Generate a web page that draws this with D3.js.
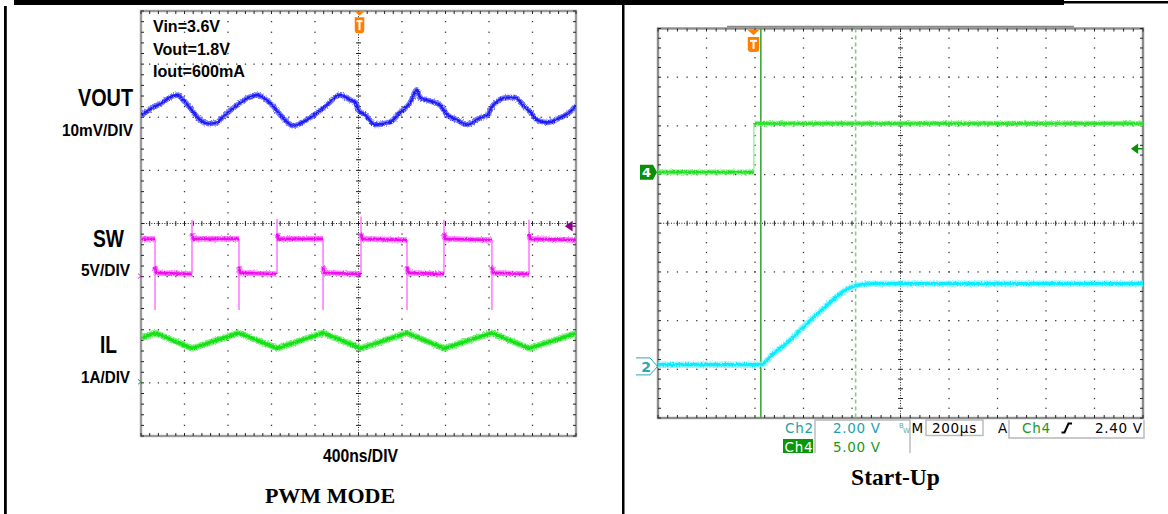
<!DOCTYPE html>
<html>
<head>
<meta charset="utf-8">
<script src="https://cdn.jsdelivr.net/npm/d3@7"></script>
<style>
  html, body { margin: 0; padding: 0; background: #fff; }
  svg { display: block; }
</style>
</head>
<body>
<div id="chart"></div>
<script>
// ---------- PWM MODE capture: time in ns (400ns/DIV) ----------
const pwmConditions = ['Vin=3.6V', 'Vout=1.8V', 'Iout=600mA'];
const pwmChannels = [
  { name: 'VOUT', scale: '10mV/DIV' },
  { name: 'SW', scale: '5V/DIV' },
  { name: 'IL', scale: '1A/DIV' },
];
// VOUT ripple, mV
const voutTrace = [
  [0, -1.1], [90, 0.2], [175, 1.1], [294, 2.6], [340, 2.8], [386, 1.9], [451, 0.4],
  [543, -1.9], [620, -2.6], [700, -2.4], [726, -1.9], [864, 0.6], [960, 2.0],
  [1067, 2.8], [1186, 1.3], [1324, -1.9], [1398, -3.0], [1554, -1.5], [1692, 0.6],
  [1830, 2.8], [1922, 1.9], [1977, 1.3], [1995, 0.0], [2060, -0.9], [2152, -2.8],
  [2290, -2.3], [2382, -0.5], [2474, 1.3], [2538, 3.8], [2565, 2.3], [2685, 1.5],
  [2749, 0.9], [2814, -0.9], [2906, -1.9], [2998, -2.8], [3117, -1.5], [3191, -0.9],
  [3227, 0.6], [3365, 2.3], [3439, 2.3], [3512, 0.9], [3577, -0.4], [3642, -1.9],
  [3733, -2.4], [3853, -1.5], [3945, -0.4], [4000, 0.8],
];
// SW node, V: flat levels between edges
const swLevels = [
  [[0, 3.5], [129, 3.5]],
  [[129, 0.9], [140, 0.3], [469, 0.2]],
  [[469, 4.0], [480, 3.5], [901, 3.5]],
  [[901, 0.9], [912, 0.3], [1251, 0.2]],
  [[1251, 4.0], [1262, 3.5], [1674, 3.5]],
  [[1674, 0.9], [1685, 0.3], [2023, 0.2]],
  [[2023, 4.0], [2034, 3.5], [2446, 3.4]],
  [[2446, 0.9], [2457, 0.3], [2786, 0.2]],
  [[2786, 4.0], [2797, 3.5], [3227, 3.4]],
  [[3227, 0.9], [3238, 0.3], [3568, 0.2]],
  [[3568, 4.0], [3579, 3.5], [4000, 3.4]],
];
// SW edges: [time, from V, spike V]
const swEdges = [
  [129, 3.5, -3.2], [469, 0.2, 5.3], [901, 3.5, -3.2], [1251, 0.2, 5.4],
  [1674, 3.5, -3.2], [2023, 0.2, 5.6], [2446, 3.4, -3.2], [2786, 0.2, 5.3],
  [3227, 3.4, -3.2], [3568, 0.2, 5.3],
];
// inductor current, A
const ilTrace = [
  [0, 0.82], [129, 0.92], [469, 0.63], [901, 0.92], [1251, 0.63], [1674, 0.92],
  [2023, 0.63], [2446, 0.92], [2786, 0.63], [3227, 0.92], [3568, 0.63], [4000, 0.91],
];
const pwmTrigger = { time: 2000, swLevel: 4.7 };

// ---------- Start-Up capture: time in us (200us/DIV) ----------
const ch4Low = [[0, 0.0], [395, 0.0]];
const ch4High = [[396, 5.0], [2000, 5.0]];
const ch4Edge = [395.5, 0.0, 5.0];
const ch2Trace = [
  [0, 0.07], [425, 0.07], [475, 0.52], [544, 1.07], [613, 1.75], [682, 2.37],
  [751, 2.98], [792, 3.23], [820, 3.33], [888, 3.40], [2000, 3.40],
];
const startTrigger = { time: 396, level: 2.40 };
const cursorTimes = [424, 815];

// ---------- layout ----------
const W = 1168, H = 514;
const svg = d3.select('#chart').append('svg').attr('width', W).attr('height', H);
const sans = "'Liberation Sans Narrow', 'Liberation Sans', Arial, sans-serif";
const serif = "'Liberation Serif', 'Times New Roman', serif";
const tek = "'DejaVu Sans', Verdana, sans-serif";

// fuzzy look of the sampled traces (user-space region so flat lines survive)
const filt = svg.append('defs').append('filter').attr('id', 'fuzz')
  .attr('filterUnits', 'userSpaceOnUse')
  .attr('x', 0).attr('y', 0).attr('width', W).attr('height', H);
filt.append('feTurbulence').attr('type', 'fractalNoise').attr('baseFrequency', '0.9 0.6')
  .attr('numOctaves', 2).attr('seed', 3).attr('result', 'n');
filt.append('feDisplacementMap').attr('in', 'SourceGraphic').attr('in2', 'n')
  .attr('scale', 3.2).attr('xChannelSelector', 'R').attr('yChannelSelector', 'G');

// outer table lines
svg.append('rect').attr('x', 14).attr('y', 0).attr('width', 1050).attr('height', 5).attr('fill', '#000');
svg.append('rect').attr('x', 1064).attr('y', 1).attr('width', 104).attr('height', 2.5).attr('fill', '#000');
svg.append('rect').attr('x', 4).attr('y', 6).attr('width', 2.8).attr('height', H).attr('fill', '#000');
svg.append('rect').attr('x', 622).attr('y', 5).attr('width', 2.5).attr('height', H).attr('fill', '#000');

function drawGrid(g, xd, yd, borderColor) {
  const [x0, x1] = xd.range();
  const [y1, y0] = yd.range();
  const subX = d3.range(0, 50.5).map(i => i / 5);
  const subY = d3.range(-20, 20.5).map(i => i / 5);
  const dots = [];
  for (let i = 1; i < 10; i++) if (i !== 5) subY.forEach(v => dots.push([xd(i), yd(v)]));
  for (let j = -3; j < 4; j++) if (j !== 0) subX.forEach(u => dots.push([xd(u), yd(j)]));
  g.selectAll('rect.dot').data(dots).join('rect').attr('class', 'dot')
    .attr('x', d => d[0] - 0.65).attr('y', d => d[1] - 0.65)
    .attr('width', 1.3).attr('height', 1.3).attr('fill', '#3a3a3a');
  // centre cross
  g.append('line').attr('x1', x0).attr('x2', x1).attr('y1', yd(0)).attr('y2', yd(0))
    .attr('stroke', '#222').attr('stroke-width', 1).attr('stroke-dasharray', '1,1.6');
  g.append('line').attr('x1', xd(5)).attr('x2', xd(5)).attr('y1', y0).attr('y2', y1)
    .attr('stroke', '#222').attr('stroke-width', 1).attr('stroke-dasharray', '1,1.6');
  g.selectAll('line.tx').data(subX).join('line').attr('class', 'tx')
    .attr('x1', d => xd(d)).attr('x2', d => xd(d))
    .attr('y1', yd(0) - 2.5).attr('y2', yd(0) + 2.5).attr('stroke', '#222').attr('stroke-width', 1);
  g.selectAll('line.ty').data(subY).join('line').attr('class', 'ty')
    .attr('y1', d => yd(d)).attr('y2', d => yd(d))
    .attr('x1', xd(5) - 2.5).attr('x2', xd(5) + 2.5).attr('stroke', '#222').attr('stroke-width', 1);
  // frame
  g.append('rect').attr('x', x0).attr('y', y0).attr('width', x1 - x0).attr('height', y1 - y0)
    .attr('fill', 'none').attr('stroke', borderColor).attr('stroke-width', 2.4);
  const bt = [];
  subX.forEach(u => { bt.push([xd(u), y0, xd(u), y0 + 3]); bt.push([xd(u), y1, xd(u), y1 - 3]); });
  subY.forEach(v => { bt.push([x0, yd(v), x0 + 3, yd(v)]); bt.push([x1, yd(v), x1 - 3, yd(v)]); });
  g.selectAll('line.bt').data(bt).join('line').attr('class', 'bt')
    .attr('x1', d => d[0]).attr('y1', d => d[1]).attr('x2', d => d[2]).attr('y2', d => d[3])
    .attr('stroke', '#222').attr('stroke-width', 1);
}

function trace(g, pts, xs, ys, band, core, bw, cw, curve) {
  const line = d3.line().x(d => xs(d[0])).y(d => ys(d[1])).curve(curve || d3.curveLinear);
  g.append('path').attr('d', line(pts)).attr('fill', 'none').attr('stroke', band)
    .attr('stroke-width', bw).attr('stroke-linejoin', 'round').attr('opacity', 0.8)
    .attr('filter', 'url(#fuzz)');
  g.append('path').attr('d', line(pts)).attr('fill', 'none').attr('stroke', core)
    .attr('stroke-width', cw).attr('stroke-linejoin', 'round').attr('filter', 'url(#fuzz)');
}

function triggerMarker(g, x, yTop, w, bh) {
  const m = g.append('g').attr('transform', `translate(${x},${yTop})`);
  m.append('path').attr('d', `M${-w / 2},0L${w / 2},0L0,${w * 0.45}Z`).attr('fill', '#ff7f00');
  const bt = w * 0.6;
  m.append('path')
    .attr('d', `M${-w / 2},${bt}h${w}v${bh - 3.5}q0,3.5 -3.5,3.5h${-(w - 7)}q-3.5,0 -3.5,-3.5Z`)
    .attr('fill', '#ff7f00');
  m.append('rect').attr('x', -w * 0.3).attr('y', bt + 3).attr('width', w * 0.6).attr('height', 2).attr('fill', '#fff');
  m.append('rect').attr('x', -1).attr('y', bt + 3).attr('width', 2).attr('height', bh - 6).attr('fill', '#fff');
}

// ===================== PWM MODE panel =====================
const L = { x0: 141, x1: 576, y0: 11, y1: 436 };
const xDivL = d3.scaleLinear().domain([0, 10]).range([L.x0, L.x1]);
const yDivL = d3.scaleLinear().domain([-4, 4]).range([L.y1, L.y0]);
const xT = d3.scaleLinear().domain([0, 4000]).range([L.x0, L.x1]);
const chanL = (offset, perDiv) => v => yDivL(offset + v / perDiv);
const yVout = chanL(2.14, 10), ySw = chanL(-0.99, 5), yIl = chanL(-2.98, 1);

const gL = svg.append('g');
drawGrid(gL, xDivL, yDivL, '#9a9a9a');
svg.append('clipPath').attr('id', 'clipL').append('rect')
  .attr('x', L.x0).attr('y', L.y0).attr('width', L.x1 - L.x0).attr('height', L.y1 - L.y0);
const tL = gL.append('g').attr('clip-path', 'url(#clipL)');

trace(tL, voutTrace, xT, yVout, '#5a5aff', '#1c1cf5', 5.5, 2.4, d3.curveMonotoneX);
tL.selectAll('line.edge').data(swEdges).join('line').attr('class', 'edge')
  .attr('x1', d => xT(d[0])).attr('x2', d => xT(d[0]))
  .attr('y1', d => ySw(d[1])).attr('y2', d => ySw(d[2]))
  .attr('stroke', '#ff8cff').attr('stroke-width', 1.8);
swLevels.forEach(seg => trace(tL, seg, xT, ySw, '#ff66ff', '#ee11ee', 5.6, 2.6));
trace(tL, ilTrace, xT, yIl, '#5cec5c', '#14e014', 6.5, 3.4);

triggerMarker(gL, xT(pwmTrigger.time) + 1, L.y0 + 0.5, 9.5, 16);
// trigger level arrow (right edge) and ground markers (left edge)
gL.append('path')
  .attr('d', `M${L.x1 - 10},${ySw(pwmTrigger.swLevel)}l6,-4.2v8.4Z M${L.x1 - 4},${ySw(pwmTrigger.swLevel)}h4`)
  .attr('fill', '#8a008a').attr('stroke', '#8a008a').attr('stroke-width', 1.2);
gL.append('path').attr('d', `M${L.x0 - 3},${ySw(0) - 2.5}l3,2.5l-3,2.5`)
  .attr('fill', 'none').attr('stroke', '#cc44cc').attr('stroke-width', 1);
gL.append('path').attr('d', `M${L.x0 - 3},${yIl(0) - 2.5}l3,2.5l-3,2.5`)
  .attr('fill', 'none').attr('stroke', '#22aa22').attr('stroke-width', 1);

// texts
const condG = gL.append('g').attr('font-family', sans).attr('font-weight', 'bold').attr('font-size', 17);
const condLen = [67, 77, 92], condY = [31.5, 54.5, 77];
pwmConditions.forEach((t, i) => condG.append('text').attr('x', 153).attr('y', condY[i])
  .attr('textLength', condLen[i]).attr('lengthAdjust', 'spacingAndGlyphs').text(t));

const nameX = [133, 124, 117], nameY = [106, 246.7, 353], nameLen = [55, 31, 17];
const scaleX = [133, 130, 130], scaleY = [136, 276, 383], scaleLen = [71, 49, 49];
pwmChannels.forEach((c, i) => {
  gL.append('text').attr('x', nameX[i]).attr('y', nameY[i]).attr('text-anchor', 'end')
    .attr('font-family', sans).attr('font-weight', 'bold').attr('font-size', 24)
    .attr('textLength', nameLen[i]).attr('lengthAdjust', 'spacingAndGlyphs').text(c.name);
  gL.append('text').attr('x', scaleX[i]).attr('y', scaleY[i]).attr('text-anchor', 'end')
    .attr('font-family', sans).attr('font-weight', 'bold').attr('font-size', 16.5)
    .attr('textLength', scaleLen[i]).attr('lengthAdjust', 'spacingAndGlyphs').text(c.scale);
});
gL.append('text').attr('x', 323).attr('y', 461.7).attr('font-family', sans).attr('font-weight', 'bold')
  .attr('font-size', 18).attr('textLength', 75).attr('lengthAdjust', 'spacingAndGlyphs').text('400ns/DIV');
gL.append('text').attr('x', 330).attr('y', 502.6).attr('text-anchor', 'middle')
  .attr('font-family', serif).attr('font-weight', 'bold').attr('font-size', 22).text('PWM MODE');

// ===================== Start-Up panel =====================
const R = { x0: 658, x1: 1143, y0: 28.5, y1: 418 };
const xDivR = d3.scaleLinear().domain([0, 10]).range([R.x0, R.x1]);
const yDivR = d3.scaleLinear().domain([-4, 4]).range([R.y1, R.y0]);
const xU = d3.scaleLinear().domain([0, 2000]).range([R.x0, R.x1]);
const chanR = (offset, perDiv) => v => yDivR(offset + v / perDiv);
const yCh4 = chanR(1.05, 5), yCh2 = chanR(-2.94, 2);

const gR = svg.append('g');
gR.append('line').attr('x1', 727).attr('x2', 1074).attr('y1', 26.6).attr('y2', 26.6)
  .attr('stroke', '#888').attr('stroke-width', 1.6);
drawGrid(gR, xDivR, yDivR, '#8c8c8c');
svg.append('clipPath').attr('id', 'clipR').append('rect')
  .attr('x', R.x0).attr('y', R.y0).attr('width', R.x1 - R.x0).attr('height', R.y1 - R.y0);
const tR = gR.append('g').attr('clip-path', 'url(#clipR)');

// cursors
tR.append('line').attr('x1', xU(cursorTimes[0])).attr('x2', xU(cursorTimes[0]))
  .attr('y1', R.y0).attr('y2', R.y1).attr('stroke', '#3aaa3a').attr('stroke-width', 1.6);
tR.append('line').attr('x1', xU(cursorTimes[1])).attr('x2', xU(cursorTimes[1]))
  .attr('y1', R.y0).attr('y2', R.y1).attr('stroke', '#7fd07f').attr('stroke-width', 1.6)
  .attr('stroke-dasharray', '4,3');

tR.append('line').attr('x1', xU(ch4Edge[0])).attr('x2', xU(ch4Edge[0]))
  .attr('y1', yCh4(ch4Edge[1])).attr('y2', yCh4(ch4Edge[2]))
  .attr('stroke', '#88ee88').attr('stroke-width', 1.2);
trace(tR, ch4Low, xU, yCh4, '#6cf06c', '#22e022', 5.4, 2.6);
trace(tR, ch4High, xU, yCh4, '#6cf06c', '#22e022', 5.4, 2.6);
trace(tR, ch2Trace, xU, yCh2, '#80f6ff', '#10ecff', 6.4, 3.2, d3.curveMonotoneX);

triggerMarker(gR, xU(startTrigger.time) - 0.5, R.y0 + 1.5, 11.5, 15);

// Ch4 ground marker
const y4 = yCh4(0);
gR.append('path').attr('d', `M640,${y4 - 7.5}h13l4,7.5l-4,7.5h-13Z`).attr('fill', '#0a8f0a');
gR.append('text').attr('x', 646.5).attr('y', y4 + 5).attr('text-anchor', 'middle')
  .attr('font-family', tek).attr('font-weight', 'bold').attr('font-size', 13).attr('fill', '#fff').text('4');
// Ch2 ground marker
const y2 = yCh2(0);
gR.append('path').attr('d', `M636,${y2 - 8.5}h14l7.5,8.5l-7.5,8.5h-14`)
  .attr('fill', 'none').attr('stroke', '#2aa8b2').attr('stroke-width', 1);
gR.append('text').attr('x', 646).attr('y', y2 + 6).attr('text-anchor', 'middle')
  .attr('font-family', tek).attr('font-weight', 'bold').attr('font-size', 14).attr('fill', '#2aa8b2').text('2');
// trigger level arrow
const yTl = yCh4(startTrigger.level);
gR.append('path').attr('d', `M${R.x1 - 11},${yTl}l5.5,-4v8Z M${R.x1 - 5.5},${yTl}h5.5`)
  .attr('fill', '#0a8f0a').attr('stroke', '#0a8f0a').attr('stroke-width', 1.3);

// status bar
const sb = gR.append('g').attr('font-family', tek).attr('font-size', 13.5).attr('letter-spacing', 0.7);
const box = '#b8b8b8';
sb.append('path').attr('d', 'M815,453V420H910V453').attr('fill', 'none').attr('stroke', box).attr('stroke-width', 1.4);
sb.append('rect').attr('x', 926).attr('y', 420).attr('width', 57).attr('height', 15.5)
  .attr('fill', 'none').attr('stroke', box).attr('stroke-width', 1.4);
sb.append('path').attr('d', 'M1009,420V438H1144V420').attr('fill', 'none').attr('stroke', box).attr('stroke-width', 1.4);
sb.append('rect').attr('x', 783).attr('y', 439).attr('width', 30).attr('height', 14).attr('fill', '#0a960a');
sb.append('text').attr('x', 785).attr('y', 432.7).attr('fill', '#1e9fab').text('Ch2');
sb.append('text').attr('x', 833).attr('y', 432.7).attr('fill', '#1e9fab').text('2.00 V');
sb.append('text').attr('x', 899).attr('y', 428).attr('font-size', 7).attr('letter-spacing', 0).attr('fill', '#5aa').text('B');
sb.append('text').attr('x', 903).attr('y', 433).attr('font-size', 7).attr('letter-spacing', 0).attr('fill', '#5aa').text('W');
sb.append('text').attr('x', 911.5).attr('y', 432.7).attr('fill', '#000').text('M');
sb.append('text').attr('x', 932).attr('y', 432.7).attr('fill', '#000').text('200µs');
sb.append('text').attr('x', 998).attr('y', 432.7).attr('fill', '#000').text('A');
sb.append('text').attr('x', 1022).attr('y', 432.7).attr('fill', '#1a9a1a').text('Ch4');
sb.append('path').attr('d', 'M1061.5,432.5h3l4,-9h3.5').attr('fill', 'none').attr('stroke', '#000').attr('stroke-width', 2);
sb.append('text').attr('x', 1095).attr('y', 432.7).attr('fill', '#000').text('2.40 V');
sb.append('text').attr('x', 784.5).attr('y', 451.5).attr('fill', '#fff').text('Ch4');
sb.append('text').attr('x', 833).attr('y', 451.7).attr('fill', '#1a9a1a').text('5.00 V');

gR.append('text').attr('x', 895.5).attr('y', 485).attr('text-anchor', 'middle')
  .attr('font-family', serif).attr('font-weight', 'bold').attr('font-size', 23.5).text('Start-Up');
</script>
</body>
</html>
